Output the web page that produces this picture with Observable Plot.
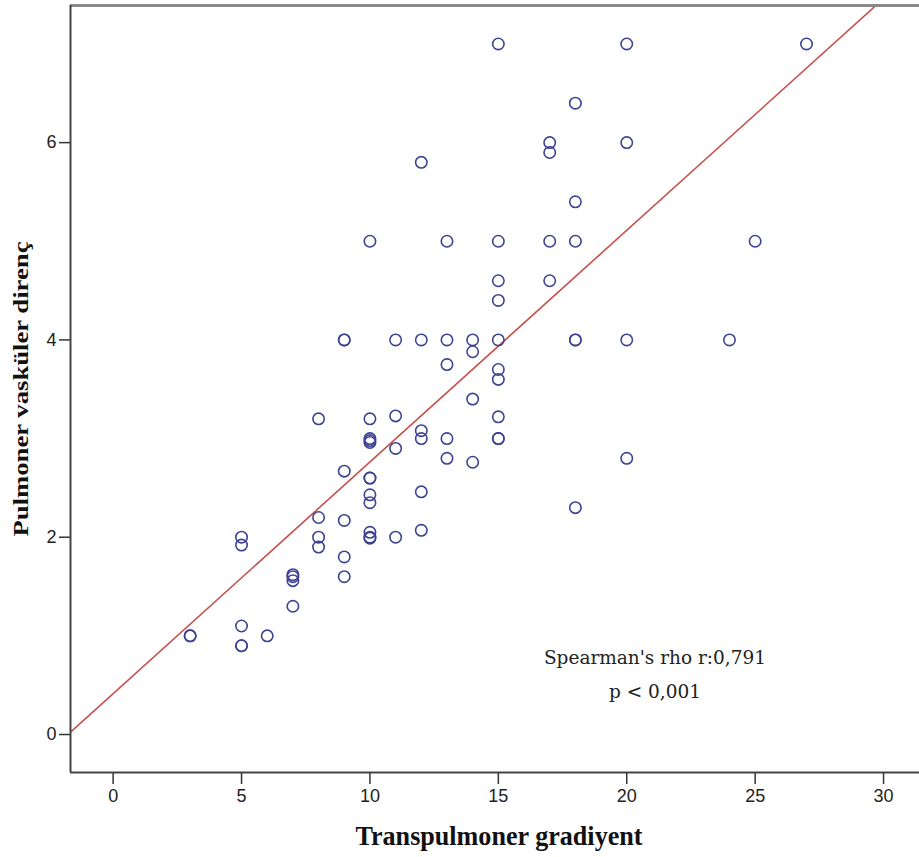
<!DOCTYPE html>
<html>
<head>
<meta charset="utf-8">
<script src="https://cdn.jsdelivr.net/npm/d3@7"></script>
<script src="https://cdn.jsdelivr.net/npm/@observablehq/plot@0.6"></script>
<style>
  html, body { margin: 0; padding: 0; background: #fff; }
  #chart svg { display: block; }
</style>
</head>
<body>
<div id="chart"></div>
<script>
// Transpulmoner gradiyent (x) values, one per patient
const gradient = [
  15, 20, 27,
  18,
  17, 17, 20,
  12,
  18,
  10, 13, 15, 17, 18, 25,
  15, 17,
  15,
  9, 9, 11, 12, 13, 14, 15, 18, 18, 20, 24,
  14,
  13,
  15, 15,
  14,
  8, 10, 11, 15,
  12,
  10, 10, 10, 12, 13, 15, 15,
  11,
  13, 20, 14,
  9,
  10, 10,
  12,
  10, 10,
  18,
  8,
  9,
  12, 10,
  5, 8, 10, 10, 11,
  5, 8,
  9,
  7, 7, 7, 9,
  7,
  5,
  3, 3, 6,
  5, 5
];
// Pulmoner vasküler direnç (y) values, same order
const resistance = [
  7.0, 7.0, 7.0,
  6.4,
  6.0, 5.9, 6.0,
  5.8,
  5.4,
  5.0, 5.0, 5.0, 5.0, 5.0, 5.0,
  4.6, 4.6,
  4.4,
  4.0, 4.0, 4.0, 4.0, 4.0, 4.0, 4.0, 4.0, 4.0, 4.0, 4.0,
  3.88,
  3.75,
  3.7, 3.6,
  3.4,
  3.2, 3.2, 3.23, 3.22,
  3.08,
  3.0, 2.98, 2.96, 3.0, 3.0, 3.0, 3.0,
  2.9,
  2.8, 2.8, 2.76,
  2.67,
  2.6, 2.6,
  2.46,
  2.43, 2.35,
  2.3,
  2.2,
  2.17,
  2.07, 2.05,
  2.0, 2.0, 2.0, 1.99, 2.0,
  1.92, 1.9,
  1.8,
  1.62, 1.6, 1.56, 1.6,
  1.3,
  1.1,
  1.0, 1.0, 1.0,
  0.9, 0.9
];
const xTicks = [0, 5, 10, 15, 20, 25, 30];
const yTicks = [0, 2, 4, 6];
const xDomain = [-1.66, 31.4];
const yDomain = [-0.385, 7.39];
const xTitle = "Transpulmoner gradiyent";
const yTitle = "Pulmoner vasküler direnç";
const annotationLines = ["Spearman's rho r:0,791", "p < 0,001"];
const annotationX = [21.1, 21.1];
const annotationY = [0.77, 0.43];

const data = gradient.map((g, i) => ({x: g, y: resistance[i]}));

// least squares fit line computed from the data
const mx = d3.mean(gradient), my = d3.mean(resistance);
const sxy = d3.sum(gradient, (g, i) => (g - mx) * (resistance[i] - my));
const sxx = d3.sum(gradient, g => (g - mx) ** 2);
const slope = sxy / sxx, intercept = my - slope * mx;
const fitLine = xDomain.map(x => ({x, y: intercept + slope * x}));

const annotation = annotationLines.map((t, i) => ({t, x: annotationX[i], y: annotationY[i]}));

const tickFont = "'Liberation Sans Narrow', 'Arial Narrow', 'Liberation Sans', sans-serif";
const titleFont = "'Liberation Serif', 'Times New Roman', serif";

const chart = Plot.plot({
  width: 919,
  height: 857,
  marginLeft: 70,
  marginRight: 0,
  marginTop: 5,
  marginBottom: 85,
  style: {fontFamily: tickFont, fontSize: "17px", color: "#222", background: "#fff"},
  x: {domain: xDomain, label: null},
  y: {domain: yDomain, label: null},
  marks: [
    Plot.axisX(xTicks, {tickSize: 12, tickPadding: 5, stroke: "#333", strokeWidth: 1.5, fontSize: 18, fontFamily: tickFont, fill: "#222", tickFormat: "d"}),
    Plot.axisY(yTicks, {tickSize: 11, tickPadding: 3, stroke: "#333", strokeWidth: 1.5, fontSize: 18, fontFamily: tickFont, fill: "#222", tickFormat: "d"}),
    Plot.line(fitLine, {x: "x", y: "y", stroke: "#c8504c", strokeWidth: 1.6, clip: true}),
    Plot.dot(data, {x: "x", y: "y", r: 5.7, stroke: "#3d4293", strokeWidth: 1.6, fill: "none"}),
    Plot.text(annotation, {x: "x", y: "y", text: "t", fontFamily: "'DejaVu Serif', serif", fontSize: 18.5, fill: "#222"}),
    Plot.ruleY([yDomain[1]], {stroke: "#8a8a8a", strokeWidth: 3}),
    Plot.ruleY([yDomain[0]], {stroke: "#444", strokeWidth: 2}),
    Plot.ruleX([xDomain[0]], {stroke: "#444", strokeWidth: 2}),
    Plot.text([xTitle], {frameAnchor: "bottom", dy: 72, dx: 4, textAnchor: "middle", fontFamily: titleFont, fontWeight: "bold", fontSize: 28, fill: "#111"}),
    Plot.text([yTitle], {frameAnchor: "left", dx: -49, textAnchor: "middle", rotate: -90, fontFamily: titleFont, fontWeight: "bold", fontSize: 20, fill: "#111"})
  ]
});

// stretch the two axis titles to the reference's lengths
d3.select(chart).selectAll("text").each(function () {
  const t = this.textContent;
  if (t === xTitle) { this.setAttribute("textLength", 287); this.setAttribute("lengthAdjust", "spacingAndGlyphs"); }
  if (t === yTitle) { this.setAttribute("textLength", 295); this.setAttribute("lengthAdjust", "spacingAndGlyphs"); }
});
document.getElementById("chart").appendChild(chart);
</script>
</body>
</html>
